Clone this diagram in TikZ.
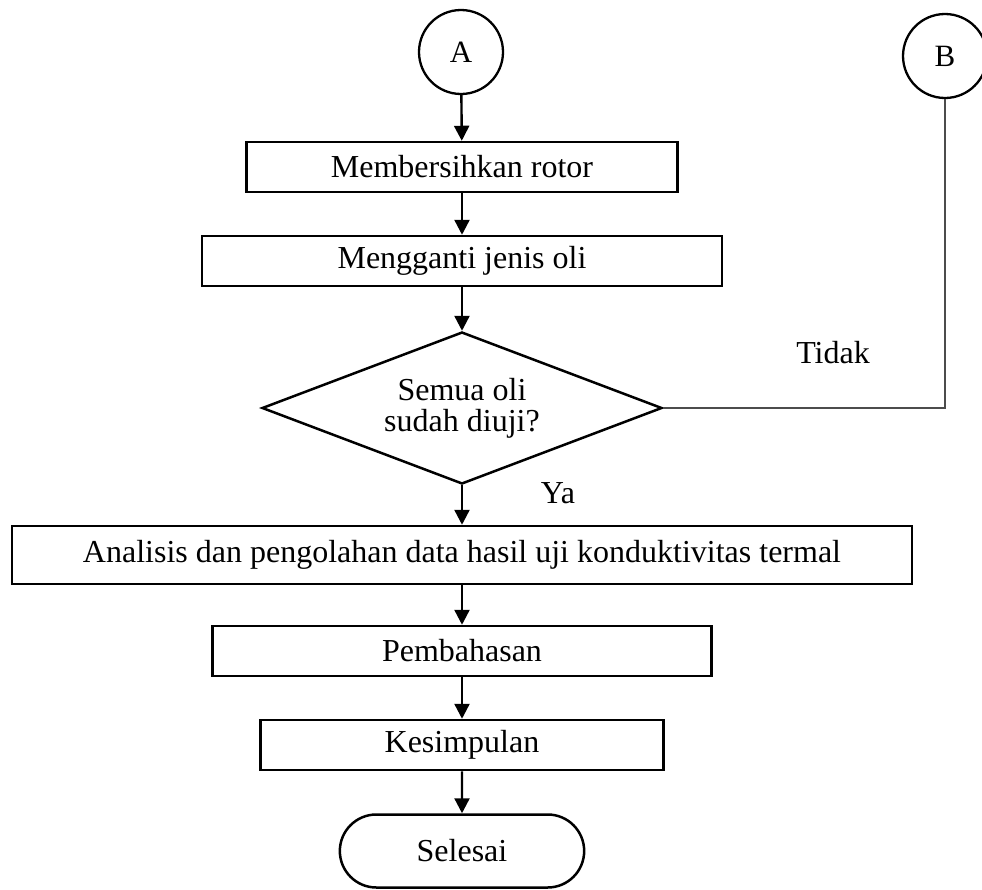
\documentclass[tikz,border=0pt]{standalone}
\usepackage{fontspec}
\setmainfont{Liberation Serif}
\usetikzlibrary{shapes.geometric,shapes.misc,arrows.meta}

\begin{document}
\begin{tikzpicture}[x=1pt,y=-1pt,
        font=\fontsize{32}{31}\selectfont,
        proses/.style={draw,line width=2.5pt,minimum height=50pt,inner sep=0pt},
        konektor/.style={draw,circle,line width=2.3pt,minimum size=84pt,inner sep=0pt,font=\fontsize{31}{31}\selectfont},
        panah/.style={line width=2.4pt,-{Triangle[length=15pt,width=15pt]}}]
    \useasboundingbox (0,0) rectangle (982,889); % ukuran gambar
    \node[konektor] (A) at (461,52) {A}; % konektor A
    \node[konektor] (B) at (945,56) {B}; % konektor B
    \node[proses,minimum width=431pt] (bersih) at (462,167) {Membersihkan rotor};
    \node[proses,minimum width=520pt] (ganti) at (462,261) {Mengganti jenis oli};
    \node[draw,diamond,aspect=2.63,line width=2.5pt,inner sep=0pt,align=center,
        minimum width=400pt,minimum height=152pt] (cek) at (462,408) {Semua oli\\sudah diuji?}; % keputusan
    \node[proses,minimum width=900pt,minimum height=58pt] (analisis) at (462,555) {Analisis dan pengolahan data hasil uji konduktivitas termal};
    \node[proses,minimum width=499pt] (bahas) at (462,651) {Pembahasan};
    \node[proses,minimum width=403pt] (simpul) at (462,745) {Kesimpulan};
    \node[draw,rounded rectangle,line width=2.5pt,minimum width=251pt,minimum height=73pt] (selesai) at (462,851) {Selesai}; % terminal
    \node (ya) at (558,493) {Ya};
    \node (tidak) at (833,353) {Tidak};
    \draw[panah] (A) -- (bersih);
    \draw[panah] (bersih) -- (ganti);
    \draw[panah] (ganti) -- (cek);
    \draw[panah] (cek) -- (analisis);
    \draw[panah] (analisis) -- (bahas);
    \draw[panah] (bahas) -- (simpul);
    \draw[panah] (simpul) -- (selesai);
    \draw[line width=1.4pt,black!70] (cek.east) -| (B.south); % kembali ke B
\end{tikzpicture}
\end{document}
